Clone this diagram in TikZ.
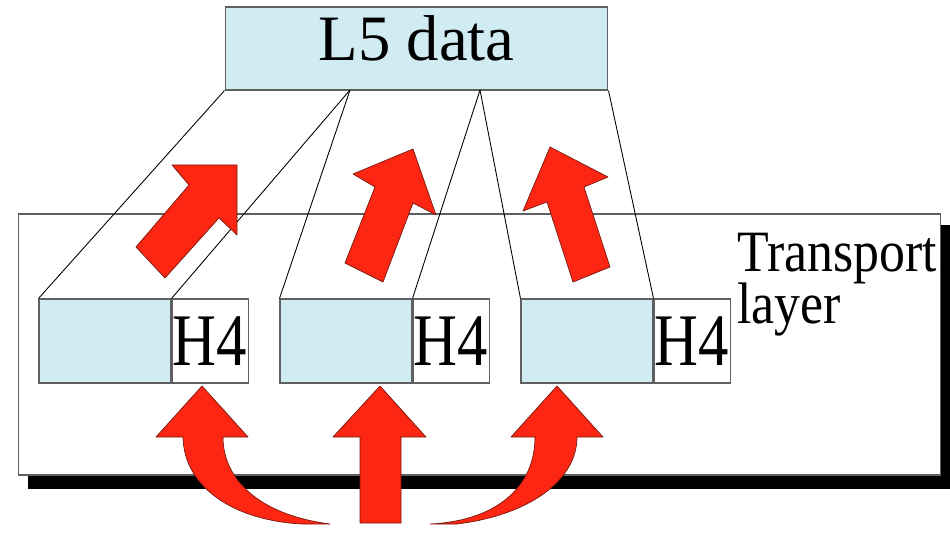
\documentclass[tikz,border=0pt]{standalone}
\usepackage{fontspec}
\setmainfont{Liberation Serif}
\usetikzlibrary{calc}
\definecolor{pdublue}{RGB}{208,236,242}
\definecolor{arrowred}{RGB}{252,38,18}
\definecolor{arrowrim}{RGB}{120,25,15}
\definecolor{boxrim}{RGB}{95,95,95}

\begin{document}
\begin{tikzpicture}[x=0.02cm,y=-0.02cm,
  pdu/.style={draw=boxrim,line width=0.6pt,fill=pdublue,inner sep=0pt,minimum width=2.64cm,minimum height=1.68cm},
  hdr/.style={draw=boxrim,line width=0.6pt,fill=white,inner sep=0pt,minimum width=1.52cm,minimum height=1.68cm,font=\fontsize{34.6pt}{40pt}\selectfont},
  blockarrow/.style={fill=arrowred,draw=arrowrim,line width=0.4pt,line join=round},
  splitline/.style={black,line width=0.5pt}]
\useasboundingbox (0,0) rectangle (950,533);

% transport layer
\draw (479.5,344.5) node[draw=boxrim,line width=0.6pt,fill=white,minimum width=18.46cm,minimum height=5.22cm,inner sep=0pt](tl){};
\draw (737,272) node[anchor=base west,inner sep=0pt](tlname){\fontsize{29.5pt}{26pt}\selectfont\scalebox{1}[1.13]{\begin{tabular}[t]{@{}l@{}}Transport\\[-2.3pt]layer\end{tabular}}};
\fill[black] ($(tl.north east)+(0,12)$) rectangle ($(tl.south east)+(10,13)$);
\fill[black] ($(tl.south west)+(10,0)$) rectangle ($(tl.south east)+(10,13)$);

% segments
\draw (105,341) node[pdu](s1){}  (346,341) node[pdu](s2){}  (587,341) node[pdu](s3){};
\draw (s1.east) node[hdr,anchor=west](h1){\scalebox{1}[1.22]{H4}}
      (s2.east) node[hdr,anchor=west](h2){\scalebox{1}[1.22]{H4}}
      (s3.east) node[hdr,anchor=west](h3){\scalebox{1}[1.22]{H4}};

% application data
\draw (416.5,48.5) node[draw=boxrim,line width=0.6pt,fill=pdublue,minimum width=7.66cm,minimum height=1.66cm,inner sep=0pt,text depth=0.4cm,font=\fontsize{36.85pt}{40pt}\selectfont](l5){L5 data};
\coordinate (fork1) at (350,90);
\coordinate (fork2) at (480,90);
\path[splitline]
    (l5.south west) edge (s1.north west)
    (fork1) edge (h1.north west)
    (fork1) edge (s2.north west)
    (fork2) edge (h2.north west)
    (fork2) edge (s3.north west)
    (l5.south east) edge (h3.north west);

% arrows up to the application
\filldraw[blockarrow] (165,278) -- (219,218) -- (237,235) -- (237,165) -- (172,165) -- (189,185) -- (136,247) -- cycle;
\filldraw[blockarrow] (345,263) -- (375,187) -- (353,174) -- (413,149) -- (436,215) -- (413,203) -- (383,282) -- cycle;
\filldraw[blockarrow] (573,282) -- (547,202) -- (523,211) -- (550,147) -- (608,177) -- (584,187) -- (610,267) -- cycle;

% arrows from the network
\filldraw[blockarrow] (202,386) -- (248,437) -- (223,437) .. controls (223,480) and (260,515) .. (330,524)
    -- (303,524) .. controls (235,521) and (184,488) .. (183,437) -- (156,437) -- cycle;
\filldraw[blockarrow] (380,386) -- (426,437) -- (401,437) -- (401,523) -- (360,523) -- (360,437) -- (333,437) -- cycle;
\filldraw[blockarrow] (557,386) -- (603,437) -- (577,437) .. controls (577,480) and (530,515) .. (457,524)
    -- (430,524) .. controls (495,521) and (535,488) .. (535,437) -- (511,437) -- cycle;
\end{tikzpicture}
\end{document}
